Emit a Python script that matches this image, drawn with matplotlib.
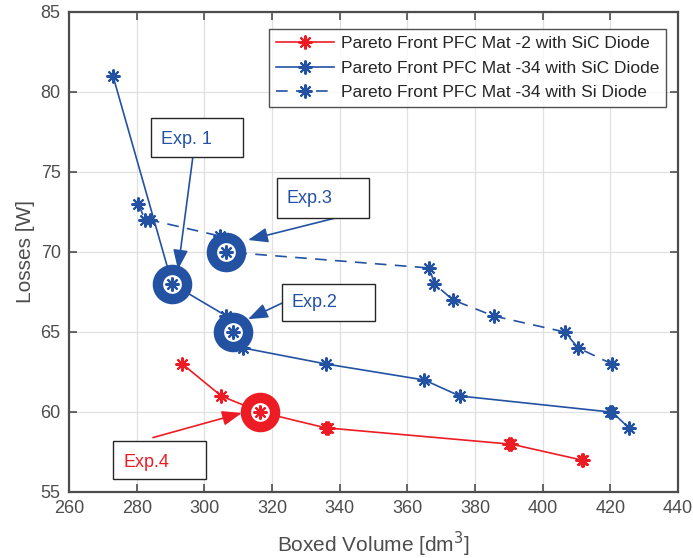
import matplotlib
matplotlib.use("Agg")
import matplotlib.pyplot as plt
from matplotlib.patches import Rectangle

plt.rcParams['font.family'] = ['Liberation Sans', 'DejaVu Sans']

RED = '#ED1C24'
BLUE = '#2352A3'
GRAY = '#4D4D4D'
AST = (8, 2, 0)  # MATLAB style asterisk marker

# Pareto front, PFC Mat -2 with SiC diode
red_vol = [293.5, 305, 316.5, 336, 336.5, 390, 390.5, 411.5, 412]
red_loss = [63, 61, 60, 59, 59, 58, 58, 57, 57]

# Pareto front, PFC Mat -34 with SiC diode
sic_vol = [273, 290.5, 306.5, 308.5, 311.5, 336, 365, 375.5, 420, 420.5, 425.5]
sic_loss = [81, 68, 66, 65, 64, 63, 62, 61, 60, 60, 59]

# Pareto front, PFC Mat -34 with Si diode
si_vol = [280.5, 282.5, 284, 304.5, 306.5, 366.5, 368, 373.5, 385.5, 406.5, 410.5, 420.5]
si_loss = [73, 72, 72, 71, 70, 69, 68, 67, 66, 65, 64, 63]

# experiment points
exp_vol = [290.5, 306.5, 308.5, 316.5]
exp_loss = [68, 70, 65, 60]
exp_col = [BLUE, BLUE, BLUE, RED]

# annotation labels: text, box (x0, y0, x1, y1), text pos, arrow tail, arrow head
ann_text = ['Exp. 1', 'Exp.3', 'Exp.2', 'Exp.4']
ann_box = [(284.2, 75.94, 311.4, 78.4), (321.4, 72.1, 348.6, 74.6),
           (322.9, 65.7, 350.4, 68.0), (273.0, 55.81, 300.5, 58.19)]
ann_txt = [(287.2, 77.05), (324.4, 73.35), (325.9, 66.85), (276.0, 56.85)]
ann_tail = [(296.6, 75.94), (338.3, 72.1), (322.9, 66.8), (284.8, 58.4)]
ann_head = [(292.2, 68.9), (312.9, 70.75), (312.9, 65.8), (311.1, 59.94)]
ann_col = [BLUE, BLUE, BLUE, RED]

fig = plt.figure(figsize=(6.93, 5.58), dpi=100)
ax = fig.add_axes([0.0996, 0.1183, 0.8788, 0.8602])

ax.plot(red_vol, red_loss, '-', marker=AST, color=RED, lw=1.2, ms=10, mew=1.5,
        label='Pareto Front PFC Mat -2 with SiC Diode', zorder=3)
ax.plot(sic_vol, sic_loss, '-', marker=AST, color=BLUE, lw=1.2, ms=10, mew=1.5,
        label='Pareto Front PFC Mat -34 with SiC Diode', zorder=3)
ax.plot(si_vol, si_loss, '--', marker=AST, color=BLUE, lw=1.2, ms=10, mew=1.5,
        dashes=(7, 5), label='Pareto Front PFC Mat -34 with Si Diode', zorder=3)

for v, l, c in zip(exp_vol, exp_loss, exp_col):
    ax.plot(v, l, 'o', ms=21, mfc='white', mec=c, mew=7.5, zorder=4)
    ax.plot(v, l, marker=AST, ms=10, color=c, mec=c, mew=1.6, zorder=6)

for t, b, tp, tl, hd, c in zip(ann_text, ann_box, ann_txt, ann_tail, ann_head, ann_col):
    ax.add_patch(Rectangle((b[0], b[1]), b[2] - b[0], b[3] - b[1], fc='white',
                           ec='#262626', lw=1.0, zorder=8))
    ax.text(tp[0], tp[1], t, color=c, fontsize=13, va='center', ha='left', zorder=9)
    ax.annotate('', xy=hd, xytext=tl,
                arrowprops=dict(arrowstyle='-|>,head_length=1.2,head_width=0.45',
                                color=c, lw=1.2, shrinkA=0, shrinkB=0), zorder=7)

ax.set_xlim(260, 440)
ax.set_ylim(55, 85)
ax.set_xticks(range(260, 441, 20))
ax.set_yticks(range(55, 86, 5))
ax.grid(True, color='#E0E0E0', lw=0.9)
ax.set_axisbelow(True)
ax.tick_params(direction='in', top=True, right=True, length=6, width=1.2,
               colors=GRAY, labelsize=13, labelcolor=GRAY, pad=6)
for s in ax.spines.values():
    s.set_color(GRAY)
    s.set_linewidth(1.6)

ax.set_xlabel('Boxed Volume [dm$^3$]', fontsize=15, color=GRAY, labelpad=9)
ax.set_ylabel('Losses [W]', fontsize=15, color=GRAY, labelpad=4)

leg = ax.legend(loc='upper right', bbox_to_anchor=(0.98, 0.965), fontsize=12.5,
                frameon=True, fancybox=False, edgecolor='#262626', handlelength=3.3,
                borderpad=0.4, labelspacing=0.55, handletextpad=0.4, borderaxespad=0)
leg.get_frame().set_linewidth(1.0)
for txt in leg.get_texts():
    txt.set_color('#262626')

fig.savefig('out.png', dpi=100)
